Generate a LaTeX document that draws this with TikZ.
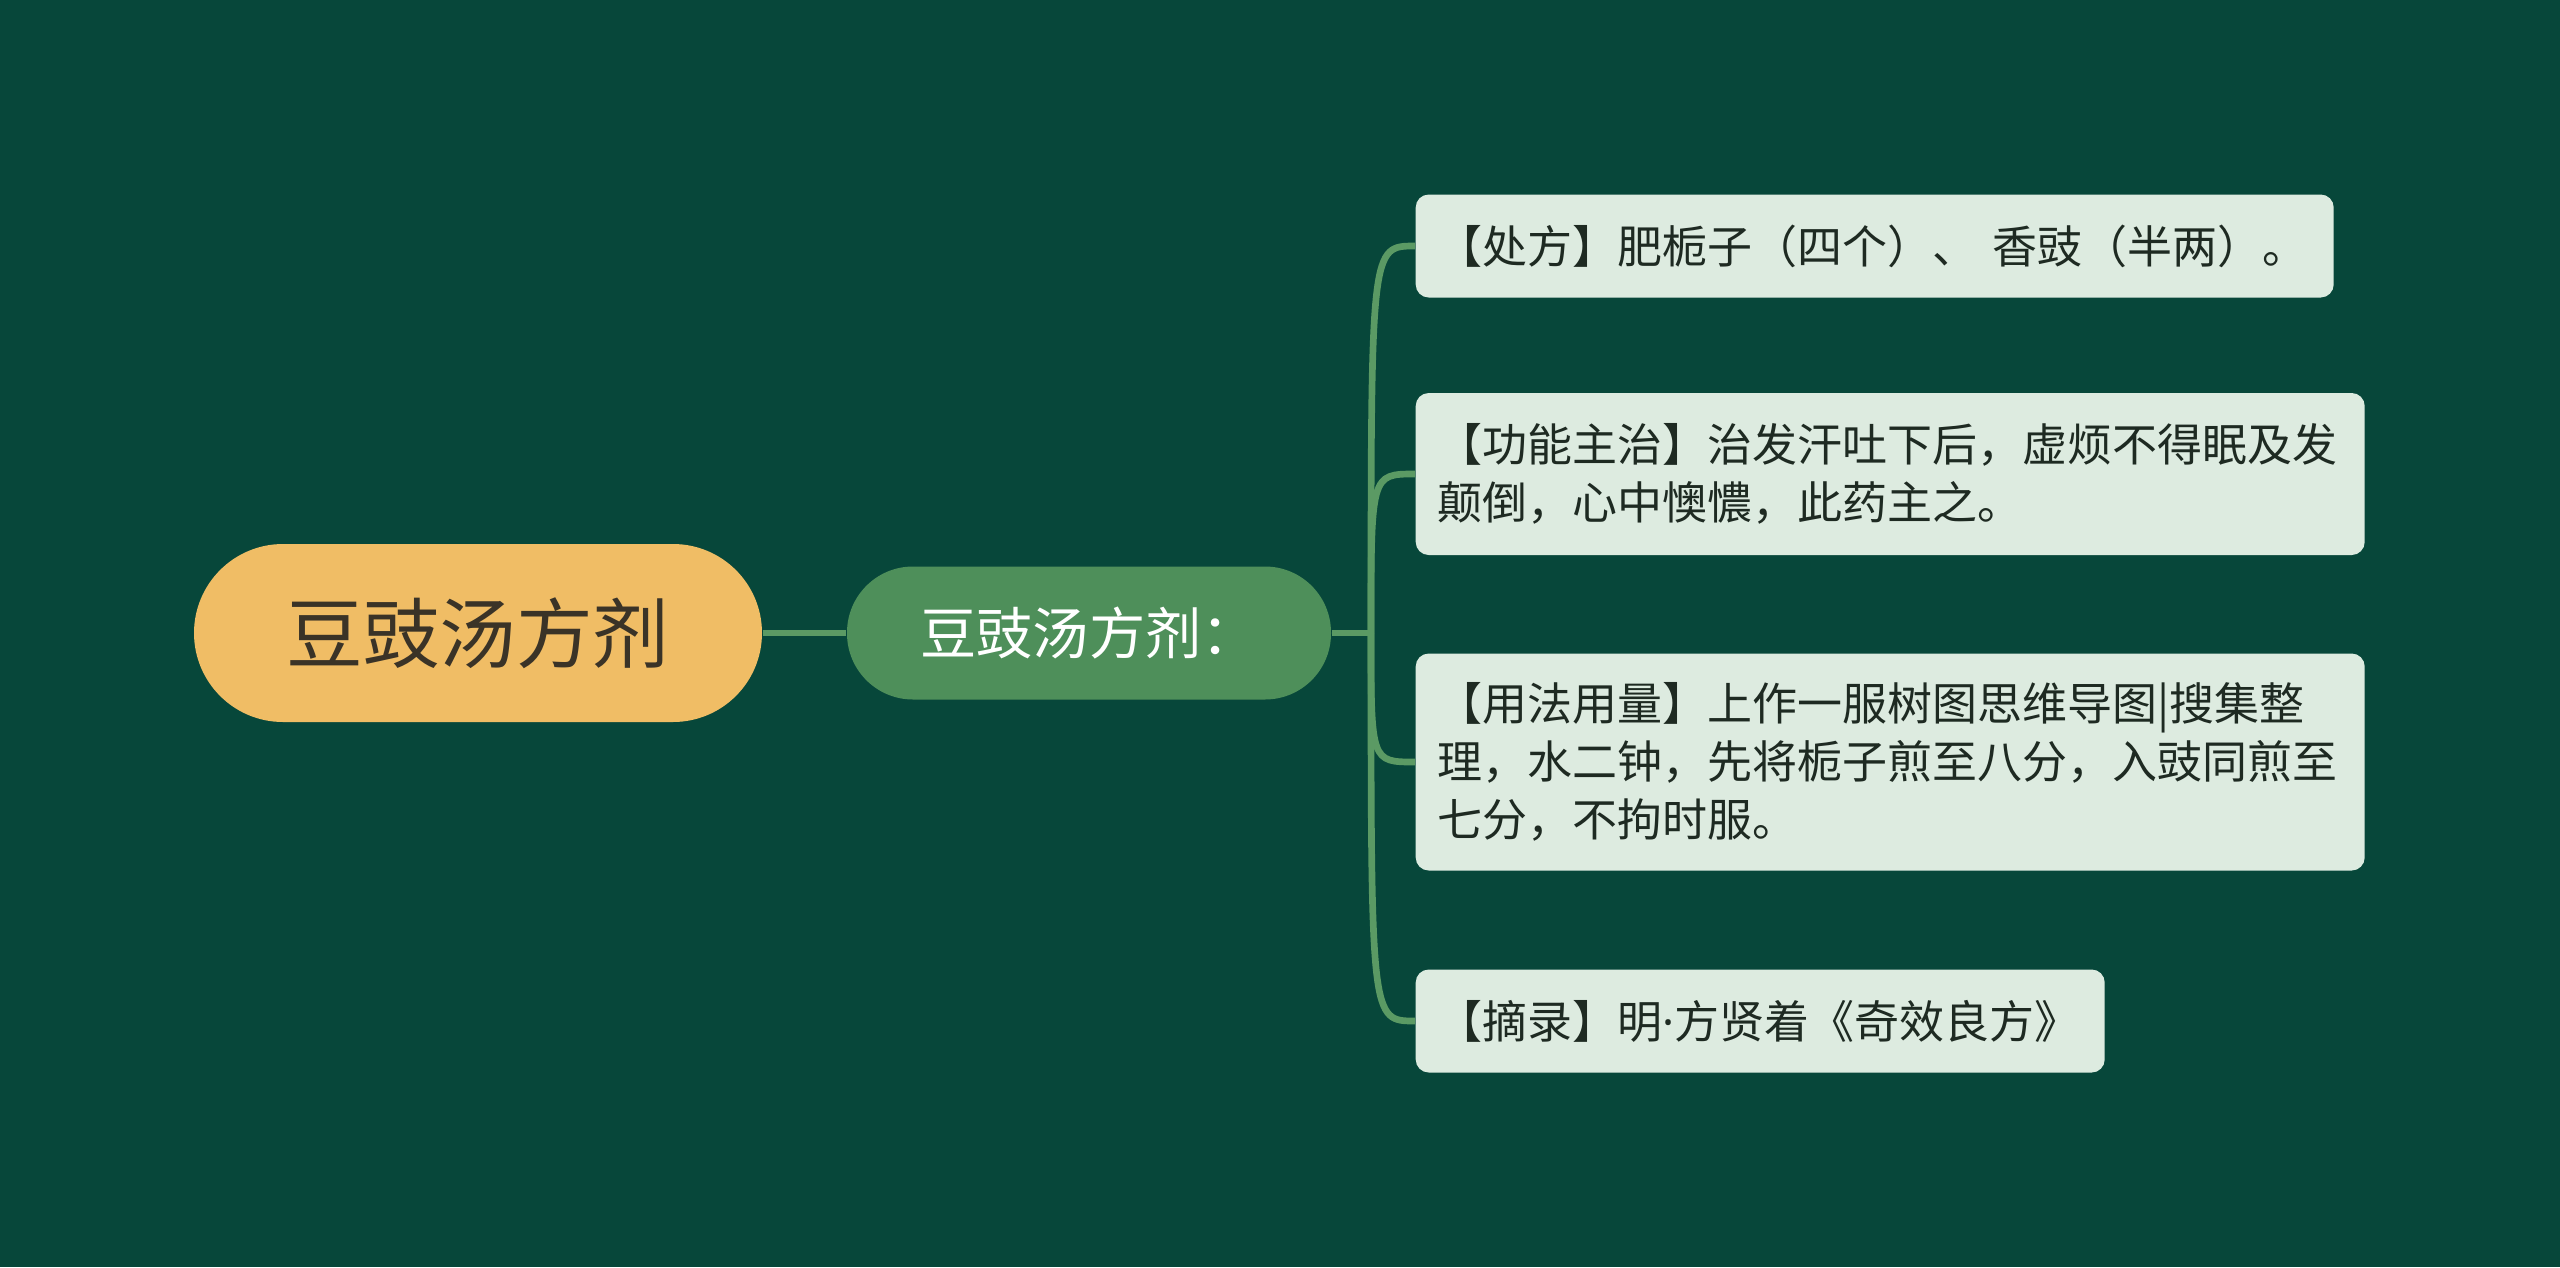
\documentclass[tikz,border=0pt]{standalone}
\usepackage{fontspec}
\setmainfont{Noto Sans CJK SC}
\newfontfamily\latinfont{Noto Sans}
\usepackage{tikz}
\usetikzlibrary{calc}
\definecolor{bgcol}{HTML}{07473A}
\definecolor{rootcol}{HTML}{F0BD65}
\definecolor{roottext}{HTML}{3A3327}
\definecolor{subcol}{HTML}{4E8F5A}
\definecolor{leafcol}{HTML}{DDEBE0}
\definecolor{leaftext}{HTML}{1E2A22}
\definecolor{linkcol}{HTML}{5B9A64}

\begin{document}
\begin{tikzpicture}[
  link/.style={draw=linkcol, line width=1.9pt},
  roottopic/.style={fill=rootcol, text=roottext, rounded corners=0.89cm,
    minimum width=5.68cm, minimum height=1.78cm,
    font=\fontsize{21.8pt}{26pt}\selectfont},
  subtopic/.style={fill=subcol, text=white, rounded corners=0.66cm,
    minimum width=4.84cm, minimum height=1.33cm,
    font=\fontsize{16pt}{20pt}\selectfont},
  leaf/.style={fill=leafcol, text=leaftext, rounded corners=0.13cm,
    anchor=west, align=left, inner xsep=0.22cm,
    font=\fontsize{12.8pt}{16.6pt}\selectfont}
]
% background
\fill[bgcol] (0,0) rectangle (25.6,-12.67);
\useasboundingbox (0,0) rectangle (25.6,-12.67);

\node[roottopic] (root) at (4.78,-6.33) {豆豉汤方剂};
\node[subtopic] (sub) at (10.89,-6.33) {豆豉汤方剂：};
\coordinate (j) at (13.71,-6.33);

\node[leaf, text width=8.74cm, minimum height=1.03cm] (l1) at (14.15,-2.46)
  {【处方】肥栀子（四个）、 香豉（半两）。};
\node[leaf, text width=9.05cm, minimum height=1.62cm] (l2) at (14.15,-4.74)
  {【功能主治】治发汗吐下后，虚烦不得眠及发\\颠倒，心中懊憹，此药主之。};
\node[leaf, text width=9.05cm, minimum height=2.17cm] (l3) at (14.15,-7.62)
  {【用法用量】上作一服树图思维导图|搜集整\\理，水二钟，先将栀子煎至八分，入豉同煎至\\七分，不拘时服。};
\node[leaf, text width=6.45cm, minimum height=1.03cm] (l4) at (14.15,-10.21)
  {【摘录】明{\latinfont ·}方贤着《奇效良方》};

\draw[link] (root) -- (sub);
\draw[link] (sub) -- (j);
\foreach \n in {l1,l2,l3,l4}
  \draw[link] (j) .. controls (j |- \n.west) and (j |- \n.west) .. (\n.west);
\end{tikzpicture}
\end{document}
